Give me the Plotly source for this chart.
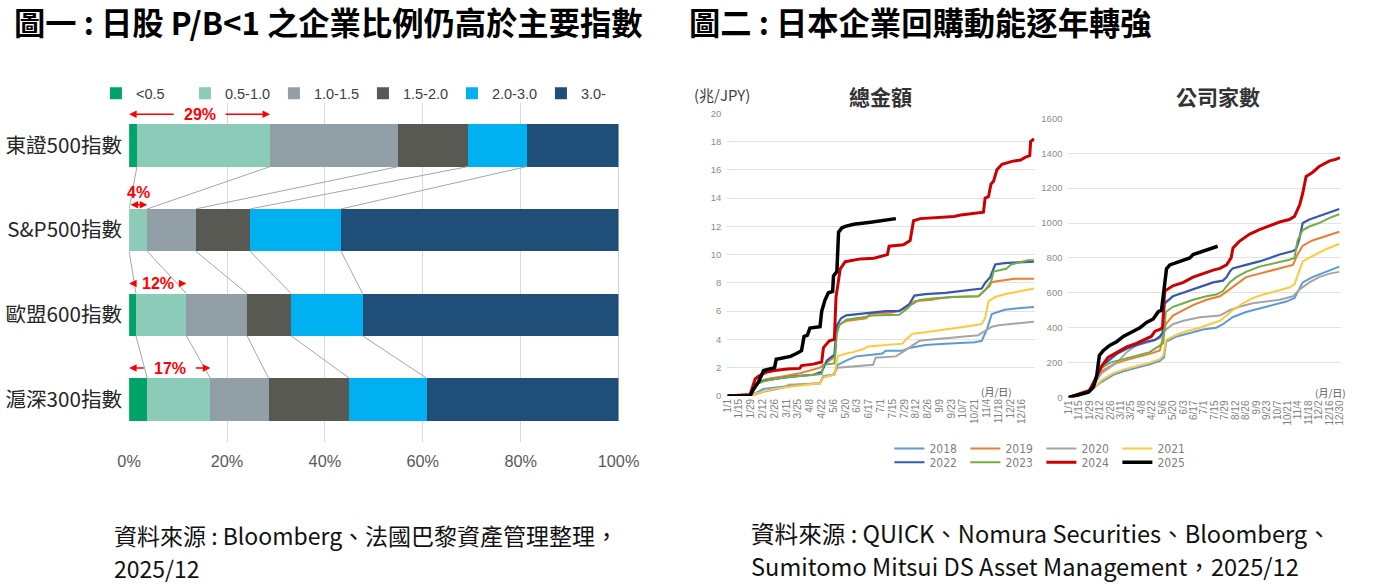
import plotly.graph_objects as go

W, H = 1373, 586

# ---------------- Figure 1 : P/B distribution ----------------
INDEXES = ["東證500指數", "S&P500指數", "歐盟600指數", "滬深300指數"]
PB_BUCKETS = ["<0.5", "0.5-1.0", "1.0-1.5", "1.5-2.0", "2.0-3.0", "3.0-"]
PB_LT05 = [1.6, 0.0, 1.4, 3.7]
PB_05_10 = [27.2, 3.7, 10.3, 12.9]
PB_10_15 = [26.2, 9.9, 12.4, 11.9]
PB_15_20 = [14.2, 11.1, 9.0, 16.5]
PB_20_30 = [12.0, 18.6, 14.6, 15.8]
PB_30_UP = [18.8, 56.7, 52.3, 39.2]
PCT_TICKS = [0, 20, 40, 60, 80, 100]

# ---------------- Figure 2 : buybacks ----------------
YEARS = ["2018", "2019", "2020", "2021", "2022", "2023", "2024", "2025"]
DATE_TICKS = ["1/1", "1/15", "1/29", "2/12", "2/26", "3/11", "3/25", "4/8", "4/22",
              "5/6", "5/20", "6/3", "6/17", "7/1", "7/15", "7/29", "8/12", "8/26",
              "9/9", "9/23", "10/7", "10/21", "11/4", "11/18", "12/2", "12/16", "12/30"]

# total amount (trillion JPY): day-of-year, value
AMT_2018_D = [0, 27, 43, 71, 86, 110, 114, 127, 131, 141, 153, 169, 184, 188, 208, 216, 235, 259, 294, 302, 308, 314, 329, 345, 364]
AMT_2018_V = [0, 0, 0.5, 0.7, 0.8, 0.9, 1.4, 1.5, 2.2, 2.5, 2.8, 2.9, 3.0, 3.2, 3.2, 3.4, 3.6, 3.7, 3.8, 3.9, 4.7, 5.8, 6.1, 6.2, 6.3]
AMT_2019_D = [0, 27, 37, 47, 67, 86, 110, 125, 128, 130, 141, 165, 169, 196, 212, 222, 243, 251, 267, 298, 306, 312, 318, 341, 364]
AMT_2019_V = [0, 0, 1.0, 1.2, 1.4, 1.6, 2.0, 2.7, 2.8, 5.0, 5.3, 5.5, 5.8, 5.9, 6.2, 6.7, 6.8, 6.9, 7.0, 7.05, 7.5, 8.0, 8.1, 8.3, 8.3]
AMT_2020_D = [0, 27, 43, 67, 73, 110, 114, 125, 131, 157, 173, 176, 200, 208, 220, 228, 243, 259, 275, 298, 306, 314, 322, 337, 353, 364]
AMT_2020_V = [0, 0, 0.3, 0.6, 0.8, 0.9, 1.4, 1.5, 2.0, 2.1, 2.2, 2.7, 2.8, 3.1, 3.6, 3.9, 4.0, 4.1, 4.2, 4.3, 4.6, 4.9, 5.0, 5.1, 5.2, 5.25]
AMT_2021_D = [0, 27, 35, 55, 82, 98, 110, 114, 127, 131, 141, 149, 161, 167, 188, 208, 212, 220, 235, 259, 275, 294, 302, 306, 310, 318, 329, 337, 353, 364]
AMT_2021_V = [0, 0, 0.2, 0.5, 0.7, 0.8, 0.9, 1.3, 1.5, 2.8, 3.0, 3.1, 3.3, 3.5, 3.6, 3.7, 4.0, 4.4, 4.5, 4.7, 4.8, 5.0, 5.1, 5.5, 6.7, 7.0, 7.2, 7.3, 7.5, 7.6]
AMT_2022_D = [0, 27, 37, 56, 82, 102, 112, 118, 122, 127, 130, 135, 141, 157, 165, 188, 204, 212, 216, 222, 235, 259, 275, 288, 302, 306, 312, 318, 329, 345, 364]
AMT_2022_V = [0, 0, 1.0, 1.2, 1.4, 1.5, 1.7, 2.5, 2.7, 2.9, 5.0, 5.5, 5.7, 5.8, 5.9, 6.0, 6.0, 6.3, 6.5, 7.1, 7.2, 7.3, 7.4, 7.5, 7.6, 8.0, 8.4, 9.3, 9.4, 9.45, 9.5]
AMT_2023_D = [0, 27, 37, 47, 67, 82, 98, 112, 114, 127, 130, 133, 141, 157, 165, 173, 204, 214, 217, 228, 243, 267, 298, 306, 312, 316, 331, 337, 357, 364]
AMT_2023_V = [0, 0, 0.9, 1.1, 1.3, 1.4, 1.5, 1.55, 2.2, 2.3, 4.4, 5.0, 5.4, 5.5, 5.6, 5.7, 5.75, 6.2, 6.4, 6.8, 6.9, 7.0, 7.05, 7.5, 7.8, 8.8, 9.0, 9.3, 9.6, 9.6]
AMT_2024_D = [0, 14, 27, 33, 37, 47, 56, 71, 86, 88, 102, 112, 114, 121, 127, 129, 134, 140, 158, 174, 190, 192, 209, 217, 221, 229, 245, 269, 277, 292, 304, 306, 310, 313, 316, 320, 326, 338, 348, 354, 359, 360, 364]
AMT_2024_V = [0, 0.05, 0.1, 1.2, 1.4, 1.7, 1.8, 1.9, 1.95, 2.15, 2.25, 2.4, 3.4, 3.9, 4.0, 7.0, 9.0, 9.5, 9.7, 9.75, 10.0, 10.6, 10.7, 11.0, 12.4, 12.55, 12.6, 12.7, 12.8, 12.9, 13.0, 14.0, 14.1, 15.0, 15.2, 16.0, 16.4, 16.6, 16.7, 16.9, 17.0, 18.0, 18.2]
AMT_2025_D = [0, 27, 31, 37, 43, 56, 58, 67, 75, 82, 88, 91, 95, 98, 110, 112, 116, 120, 125, 126, 130, 132, 136, 140, 150, 170, 190, 200]
AMT_2025_V = [0, 0, 0.5, 1.0, 1.8, 2.0, 2.6, 2.7, 2.8, 3.0, 3.2, 4.2, 4.3, 4.8, 4.9, 6.0, 6.8, 7.3, 7.4, 8.5, 8.8, 11.6, 11.9, 12.0, 12.15, 12.3, 12.5, 12.55]

# number of companies: day-of-year, value
CNT_2018_D = [0, 14, 28, 44.5, 60, 73.5, 91, 109, 122.5, 128, 131, 145, 163, 180, 198, 207, 220, 238, 256, 274, 292, 303, 307, 314, 327, 345, 363]
CNT_2018_V = [0, 15, 35, 90, 130, 150, 170, 190, 210, 230, 320, 350, 370, 390, 400, 420, 460, 490, 510, 530, 550, 570, 600, 660, 690, 720, 750]
CNT_2019_D = [0, 14, 28, 44.5, 60, 73.5, 91, 109, 122.5, 130.5, 140, 154, 167, 185, 203, 216, 225, 238, 256, 274, 292, 301, 307, 314, 327, 341, 363]
CNT_2019_V = [0, 15, 35, 150, 190, 210, 230, 250, 270, 420, 470, 500, 530, 560, 580, 620, 650, 690, 710, 730, 750, 760, 820, 870, 900, 920, 950]
CNT_2020_D = [0, 14, 28, 44.5, 65, 78, 91, 109, 122.5, 131, 140, 154, 176, 203, 216, 229, 247, 265, 283, 301, 310, 323, 336, 350, 363]
CNT_2020_V = [0, 15, 35, 140, 200, 260, 300, 320, 340, 390, 420, 440, 460, 470, 500, 520, 540, 550, 560, 580, 620, 660, 690, 710, 720]
CNT_2021_D = [0, 14, 28, 44.5, 60, 73.5, 91, 109, 122.5, 127, 131, 145, 158, 176, 189, 203, 212, 220, 234, 247, 261, 278, 296, 303, 307, 314, 327, 345, 363]
CNT_2021_V = [0, 10, 30, 100, 140, 160, 180, 200, 220, 240, 330, 360, 380, 400, 420, 440, 470, 500, 540, 570, 590, 610, 630, 650, 700, 780, 810, 850, 880]
CNT_2022_D = [0, 14, 28, 44.5, 53, 65, 78, 91, 105, 116, 122.5, 126, 129, 140, 154, 167, 180, 194, 207, 212, 216, 220, 238, 256, 270, 283, 301, 305, 309, 314, 323, 336, 350, 363]
CNT_2022_V = [0, 20, 40, 180, 210, 250, 280, 300, 320, 330, 350, 370, 540, 580, 600, 620, 640, 660, 670, 690, 720, 740, 760, 780, 800, 820, 840, 850, 900, 1000, 1020, 1040, 1060, 1080]
CNT_2023_D = [0, 14, 28, 44.5, 56, 73.5, 91, 109, 116, 122.5, 127, 130.5, 140, 154, 167, 185, 198, 207, 216, 225, 238, 256, 278, 296, 303, 307, 314, 323, 336, 350, 363]
CNT_2023_V = [0, 20, 40, 170, 200, 220, 240, 260, 280, 300, 310, 490, 520, 540, 560, 580, 590, 610, 660, 690, 720, 750, 770, 790, 800, 900, 960, 980, 1000, 1030, 1050]
CNT_2024_D = [0, 14, 28, 33, 44.5, 53, 65, 78, 91, 105, 111, 116, 122.5, 126, 129, 140, 154, 167, 180, 194, 203, 212, 218, 220.5, 229, 243, 256, 270, 283, 296, 303, 310, 314, 318.5, 327, 336, 350, 358, 364]
CNT_2024_V = [0, 20, 40, 80, 180, 230, 260, 290, 310, 340, 350, 380, 390, 400, 610, 640, 660, 690, 710, 730, 740, 760, 800, 857, 895, 937, 962, 985, 1006, 1020, 1038, 1105, 1171, 1267, 1290, 1324, 1356, 1365, 1375]
CNT_2025_D = [0, 15.6, 26.7, 33.4, 37.9, 41.4, 46.8, 55.7, 64.6, 73.5, 82.4, 95.8, 104.7, 113.6, 120.3, 124.7, 127, 131.4, 135.8, 149, 162.6, 167, 180, 189, 200]
CNT_2025_V = [0, 20, 30, 60, 125, 241, 270, 300, 320, 350, 372, 400, 430, 450, 492, 500, 580, 738, 760, 780, 800, 819, 840, 850, 867]

# ---------------- styles ----------------
BAR_COLORS = ["#00A468", "#8CCBB8", "#929FA7", "#595954", "#00B0F0", "#1F4E79"]
LINE_COLORS = ["#5B9BD5", "#ED7D31", "#A5A5A5", "#FFC83D", "#3556B5", "#70AD47", "#CC0000", "#000000"]
LINE_WIDTHS = [2, 2, 2, 2, 2.2, 2, 3, 3.5]
CJK = "Noto Sans CJK TC, Noto Sans, sans-serif"
LAT = "Liberation Sans, Arial, sans-serif"

fig = go.Figure()

# ---- stacked bars ----
buckets = [PB_LT05, PB_05_10, PB_10_15, PB_15_20, PB_20_30, PB_30_UP]
ypos = list(range(len(INDEXES)))
for name, vals, color in zip(PB_BUCKETS, buckets, BAR_COLORS):
    fig.add_trace(go.Bar(y=ypos, x=vals, orientation="h", name=name, width=0.5,
                         marker=dict(color=color, line=dict(width=0)),
                         legend="legend", xaxis="x", yaxis="y", hoverinfo="skip"))

# cumulative boundaries -> series lines
cums = []
for i in range(len(INDEXES)):
    c, row = 0.0, []
    for b in buckets:
        c += b[i]
        row.append(c)
    cums.append(row)
sx, sy = [], []
for i in range(len(INDEXES) - 1):
    for k in range(len(buckets)):
        sx += [cums[i][k], cums[i + 1][k], None]
        sy += [i + 0.25, i + 0.75, None]
fig.add_trace(go.Scatter(x=sx, y=sy, mode="lines", line=dict(color="#A6A6A6", width=1),
                         showlegend=False, hoverinfo="skip", xaxis="x", yaxis="y"))

annotations = []
RED = "#FF0000"
for i in range(len(INDEXES)):
    c2 = cums[i][1]
    mid = c2 / 2
    label = f"{c2:.0f}%"
    if c2 < 6:
        annotations.append(dict(x=mid, y=i - 0.44, xref="x", yref="y", text=f"<b>{label}</b>",
                                showarrow=False, font=dict(size=16, color=RED, family=LAT)))
        annotations.append(dict(x=c2, y=i - 0.30, ax=0, ay=i - 0.30, xref="x", yref="y",
                                axref="x", ayref="y", text="", showarrow=True, arrowhead=2,
                                arrowside="end+start", arrowsize=1, arrowwidth=1.5,
                                arrowcolor=RED, standoff=0, startstandoff=0))
    else:
        yy = i - 0.37
        annotations.append(dict(x=mid, y=yy, xref="x", yref="y", text=f"<b>{label}</b>",
                                showarrow=False, font=dict(size=16, color=RED, family=LAT)))
        for head, tail in ((0, mid - 5.0), (c2, mid + 5.0)):
            annotations.append(dict(x=head, y=yy, ax=tail, ay=yy, xref="x", yref="y",
                                    axref="x", ayref="y", text="", showarrow=True, arrowhead=2,
                                    arrowsize=1, arrowwidth=1.5, arrowcolor=RED,
                                    standoff=0, startstandoff=0))

# ---- buyback lines ----
AMT = [(AMT_2018_D, AMT_2018_V), (AMT_2019_D, AMT_2019_V), (AMT_2020_D, AMT_2020_V),
       (AMT_2021_D, AMT_2021_V), (AMT_2022_D, AMT_2022_V), (AMT_2023_D, AMT_2023_V),
       (AMT_2024_D, AMT_2024_V), (AMT_2025_D, AMT_2025_V)]
CNT = [(CNT_2018_D, CNT_2018_V), (CNT_2019_D, CNT_2019_V), (CNT_2020_D, CNT_2020_V),
       (CNT_2021_D, CNT_2021_V), (CNT_2022_D, CNT_2022_V), (CNT_2023_D, CNT_2023_V),
       (CNT_2024_D, CNT_2024_V), (CNT_2025_D, CNT_2025_V)]
for j, yr in enumerate(YEARS):
    leg = "legend2" if j < 4 else "legend3"
    ln = dict(color=LINE_COLORS[j], width=LINE_WIDTHS[j])
    fig.add_trace(go.Scatter(x=AMT[j][0], y=AMT[j][1], mode="lines", line=ln, name=yr,
                             legend=leg, xaxis="x2", yaxis="y2", hoverinfo="skip"))
    fig.add_trace(go.Scatter(x=CNT[j][0], y=CNT[j][1], mode="lines", line=ln, name=yr,
                             showlegend=False, xaxis="x3", yaxis="y3", hoverinfo="skip"))

tick_days = [14 * i for i in range(len(DATE_TICKS))]

# ---- text annotations ----
def txt(x, y, s, size, color="#000000", family=CJK, xanchor="left", yanchor="middle"):
    annotations.append(dict(x=x / W, y=1 - y / H, xref="paper", yref="paper", text=s,
                            showarrow=False, xanchor=xanchor, yanchor=yanchor,
                            font=dict(size=size, color=color, family=family)))

txt(0, 16, "<b>圖一 : 日股 P/B<1 之企業比例仍高於主要指數</b>", 31.3)
txt(692, 16, "<b>圖二 : 日本企業回購動能逐年轉強</b>", 31.3)
txt(102, 539, "資料來源 : Bloomberg、法國巴黎資產管理整理，", 23, "#111111")
txt(102, 572.5, "2025/12", 23, "#111111")
txt(755, 537, "資料來源 : QUICK、Nomura Securities、Bloomberg、", 23.6, "#111111")
txt(755, 570.5, "Sumitomo Mitsui DS Asset Management，2025/12", 23.6, "#111111")
txt(890, 92, "<b>總金額</b>", 21, "#333333", xanchor="center")
txt(1236, 92, "<b>公司家數</b>", 21, "#333333", xanchor="center")
txt(697, 90, "(兆/JPY)", 15, "#404040")
txt(1009, 393, "(月/日)", 10, "#595959", xanchor="center")
txt(1351, 394, "(月/日)", 10, "#595959", xanchor="center")

small_tick = dict(size=10, color="#7F7F7F", family=LAT)
leg_font = dict(size=12, color="#7F7F7F",
                family="DejaVu Sans Condensed, Liberation Sans Narrow, Liberation Sans")

fig.update_layout(
    width=W, height=H, margin=dict(l=0, r=0, t=0, b=0),
    paper_bgcolor="white", plot_bgcolor="white", barmode="stack",
    font=dict(family=CJK, color="#262626"),
    xaxis=dict(domain=[120 / W, 621.5 / W], range=[0, 100], tickvals=PCT_TICKS,
               ticktext=[f"{v}%" for v in PCT_TICKS],
               showgrid=True, gridcolor="#D9D9D9", gridwidth=1, zeroline=False, showline=False,
               tickfont=dict(size=16.3, color="#595959", family=LAT), ticklabelstandoff=8,
               anchor="y", fixedrange=True),
    yaxis=dict(domain=[1 - 444 / H, 1 - 99 / H], range=[3.5, -0.5], tickvals=ypos,
               ticktext=INDEXES, showgrid=False, zeroline=False, showline=False,
               tickfont=dict(size=20.6, color="#262626", family=CJK), anchor="x",
               ticklabelstandoff=6, fixedrange=True),
    xaxis2=dict(domain=[733 / W, 1048 / W], range=[0, 365], tickvals=tick_days[:-1],
                ticktext=DATE_TICKS[:-1], tickangle=-90, tickfont=small_tick,
                showgrid=False, zeroline=False, showline=False, anchor="y2", fixedrange=True),
    yaxis2=dict(domain=[1 - 397.4 / H, 1 - 109.4 / H], range=[0, 20], dtick=2,
                showgrid=True, gridcolor="#E3E3E3", zeroline=False, showline=False,
                tickfont=dict(size=9.5, color="#8C8C8C", family=LAT), anchor="x2",
                ticklabelstandoff=5, fixedrange=True),
    xaxis3=dict(domain=[1082.5 / W, 1361.5 / W], range=[0, 365], tickvals=tick_days,
                ticktext=DATE_TICKS, tickangle=-90, tickfont=small_tick,
                showgrid=False, zeroline=False, showline=False, anchor="y3", fixedrange=True),
    yaxis3=dict(domain=[1 - 399 / H, 1 - 114.5 / H], range=[0, 1600], dtick=200,
                showgrid=True, gridcolor="#E3E3E3", zeroline=False, showline=False,
                tickfont=dict(size=9.5, color="#8C8C8C", family=LAT), anchor="x3",
                ticklabelstandoff=5, fixedrange=True),
    legend=dict(orientation="h", x=86 / W, y=1 - 89 / H, xanchor="left", yanchor="middle",
                font=dict(size=14.5, color="#404040", family=LAT), entrywidth=44,
                entrywidthmode="pixels", bgcolor="rgba(0,0,0,0)", traceorder="normal"),
    legend2=dict(orientation="h", x=899 / W, y=1 - 451 / H, xanchor="left", yanchor="middle",
                 font=leg_font, entrywidth=31, entrywidthmode="pixels",
                 bgcolor="rgba(0,0,0,0)"),
    legend3=dict(orientation="h", x=899 / W, y=1 - 465 / H, xanchor="left", yanchor="middle",
                 font=leg_font, entrywidth=31, entrywidthmode="pixels",
                 bgcolor="rgba(0,0,0,0)"),
    annotations=annotations,
    showlegend=True,
)

fig.write_html("out.html", config={"displayModeBar": False},
               post_script="document.body.style.margin='0px';document.body.style.overflow='hidden';")
